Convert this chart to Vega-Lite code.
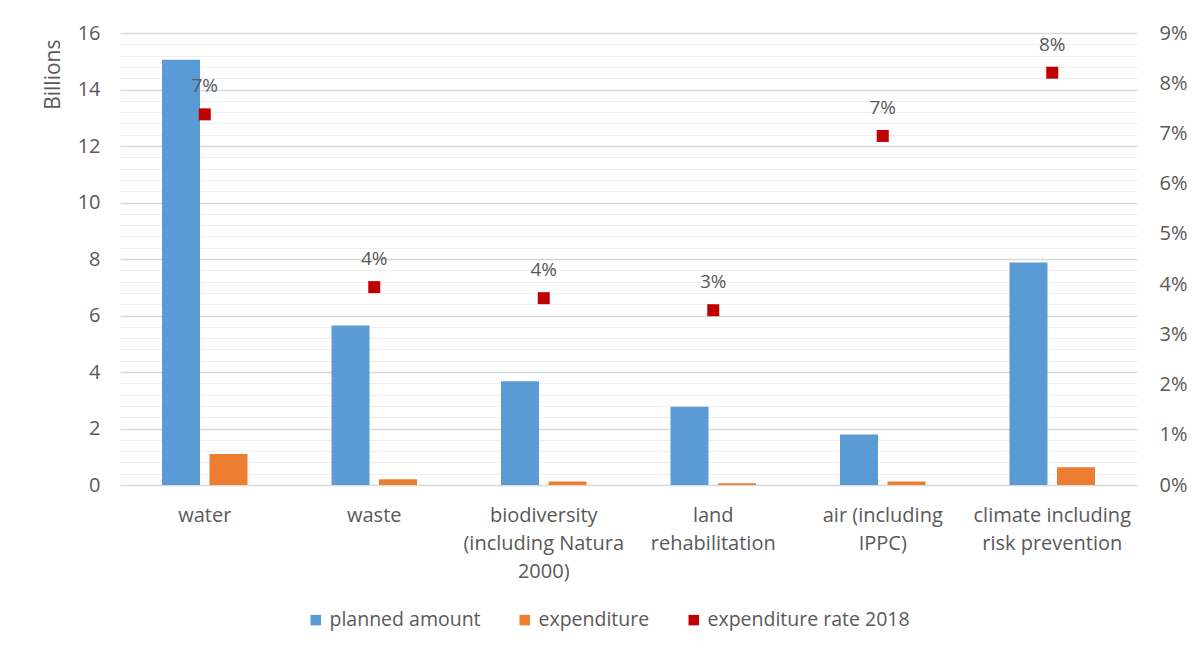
{
  "$schema": "https://vega.github.io/schema/vega-lite/v6.json",
  "width": 1017,
  "height": 452,
  "autosize": {"type": "none"},
  "padding": {"left": 120, "top": 33, "right": 63, "bottom": 170},
  "background": "white",
  "config": {
    "view": {"stroke": null},
    "font": "Open Sans",
    "axis": {"labelColor": "#595959", "titleColor": "#595959", "labelFont": "Open Sans", "titleFont": "Open Sans"},
    "legend": {"labelFont": "Open Sans"}
  },
  "datasets": {
    "bars": [
      {"category": "water", "series": "planned amount", "value": 15.05},
      {"category": "water", "series": "expenditure", "value": 1.1},
      {"category": "waste", "series": "planned amount", "value": 5.65},
      {"category": "waste", "series": "expenditure", "value": 0.2},
      {"category": "biodiversity|(including Natura|2000)", "series": "planned amount", "value": 3.67},
      {"category": "biodiversity|(including Natura|2000)", "series": "expenditure", "value": 0.12},
      {"category": "land|rehabilitation", "series": "planned amount", "value": 2.77},
      {"category": "land|rehabilitation", "series": "expenditure", "value": 0.06},
      {"category": "air (including|IPPC)", "series": "planned amount", "value": 1.79},
      {"category": "air (including|IPPC)", "series": "expenditure", "value": 0.12},
      {"category": "climate including|risk prevention", "series": "planned amount", "value": 7.88},
      {"category": "climate including|risk prevention", "series": "expenditure", "value": 0.63}
    ],
    "rates": [
      {"category": "water", "series": "expenditure rate 2018", "rate": 0.0738},
      {"category": "waste", "series": "expenditure rate 2018", "rate": 0.0394},
      {"category": "biodiversity|(including Natura|2000)", "series": "expenditure rate 2018", "rate": 0.0372},
      {"category": "land|rehabilitation", "series": "expenditure rate 2018", "rate": 0.0348},
      {"category": "air (including|IPPC)", "series": "expenditure rate 2018", "rate": 0.0695},
      {"category": "climate including|risk prevention", "series": "expenditure rate 2018", "rate": 0.0821}
    ]
  },
  "layer": [
    {
      "data": {"name": "bars"},
      "mark": {"type": "bar"},
      "encoding": {
        "x": {
          "field": "category", "type": "nominal",
          "sort": ["water", "waste", "biodiversity|(including Natura|2000)", "land|rehabilitation", "air (including|IPPC)", "climate including|risk prevention"],
          "scale": {"paddingInner": 0, "paddingOuter": 0},
          "axis": {
            "title": null, "labelAngle": 0, "domain": false, "ticks": false, "grid": false,
            "labelExpr": "split(datum.value, '|')", "labelFontSize": 20, "labelLineHeight": 28,
            "labelPadding": 20, "labelBaseline": "top", "labelLimit": 300, "labelOverlap": false, "labelColor": "#595959"
          }
        },
        "xOffset": {
          "field": "series", "type": "nominal", "sort": ["planned amount", "expenditure"],
          "scale": {"paddingInner": 0.2, "paddingOuter": 0.884}
        },
        "y": {
          "field": "value", "type": "quantitative",
          "scale": {"domain": [0, 16], "nice": false},
          "axis": {
            "title": "Billions", "titleAnchor": "end", "titleFontSize": 21, "titleFontWeight": "normal", "titlePadding": 14, "titleY": 6,
            "values": [0,0.4,0.8,1.2,1.6,2,2.4,2.8,3.2,3.6,4,4.4,4.8,5.2,5.6,6,6.4,6.8,7.2,7.6,8,8.4,8.8,9.2,9.6,10,10.4,10.8,11.2,11.6,12,12.4,12.8,13.2,13.6,14,14.4,14.8,15.2,15.6,16],
            "labelExpr": "datum.value % 2 === 0 ? format(datum.value, 'd') : ''",
            "labelOverlap": false, "labelFontSize": 20, "labelPadding": 20,
            "domain": false, "ticks": false, "grid": true,
            "gridColor": {"condition": {"test": "datum.value % 2 === 0", "value": "#d9d9d9"}, "value": "#efefef"},
            "gridWidth": {"condition": {"test": "datum.value % 2 === 0", "value": 1.5}, "value": 1.2}
          }
        },
        "color": {
          "field": "series", "type": "nominal",
          "scale": {"domain": ["planned amount", "expenditure", "expenditure rate 2018"], "range": ["#5b9bd5", "#ed7d31", "#c00000"]},
          "legend": {
            "title": null, "orient": "none", "legendX": 186, "legendY": 577, "direction": "horizontal",
            "symbolType": "square", "symbolSize": 110, "symbolStrokeWidth": 0, "labelFontSize": 19.5,
            "labelColor": "#595959", "columnPadding": 34, "labelOffset": 4, "labelLimit": 400
          }
        }
      }
    },
    {
      "data": {"name": "rates"},
      "encoding": {
        "x": {
          "field": "category", "type": "nominal",
          "sort": ["water", "waste", "biodiversity|(including Natura|2000)", "land|rehabilitation", "air (including|IPPC)", "climate including|risk prevention"]
        },
        "y": {
          "field": "rate", "type": "quantitative",
          "scale": {"domain": [0, 0.09], "nice": false},
          "axis": {
            "orient": "right", "title": null, "values": [0,0.01,0.02,0.03,0.04,0.05,0.06,0.07,0.08,0.09],
            "format": ".0%", "grid": false, "domain": false, "ticks": false, "labelFontSize": 20, "labelPadding": 22
          }
        }
      },
      "layer": [
        {
          "mark": {"type": "point", "shape": "square", "filled": true, "size": 144, "opacity": 1},
          "encoding": {"color": {"field": "series", "type": "nominal"}}
        },
        {
          "mark": {"type": "text", "dy": -28, "fontSize": 19, "color": "#595959", "baseline": "middle"},
          "encoding": {"text": {"field": "rate", "type": "quantitative", "format": ".0%"}}
        }
      ]
    }
  ],
  "resolve": {"scale": {"y": "independent"}}
}
